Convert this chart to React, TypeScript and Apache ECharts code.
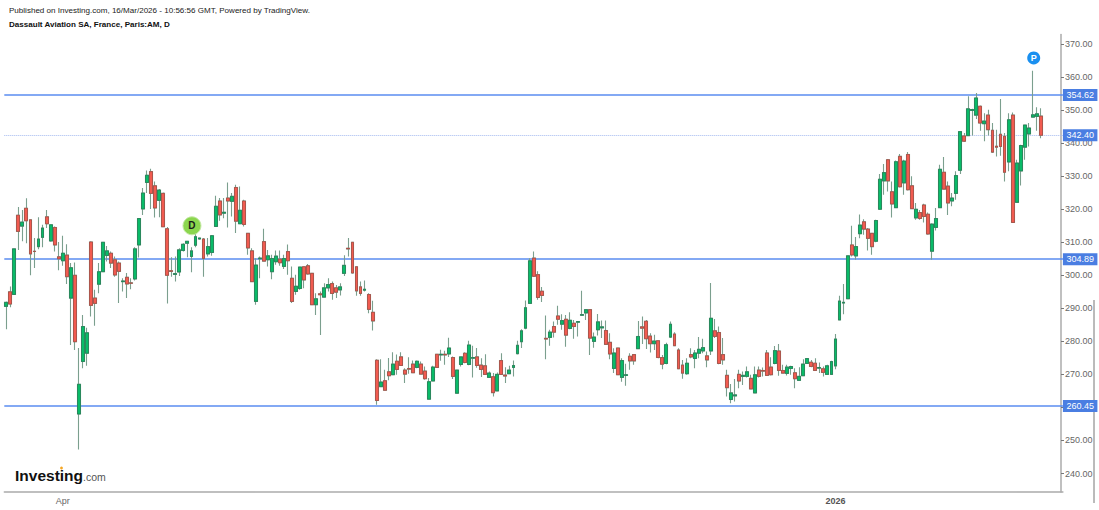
import React, { useEffect, useRef } from "react";
import * as echarts from "echarts";

// [open, close, low, high]
const springCandles = [
[290.6,291.8,283.7,292.1],[295.0,291.3,290.3,296.6],[294.2,308.0,294.2,308.0],[318.2,313.3,307.7,320.7],[314.9,316.1,310.3,319.8],[320.3,316.5,309.7,323.3],
[316.8,306.5,300.0,317.0],[307.3,307.2,302.2,311.3],[308.7,311.0,307.9,317.6],[311.5,314.3,308.5,315.3],[317.7,315.6,314.3,319.8],[310.4,315.3,310.2,315.3],
[314.5,309.2,307.2,314.8],[305.6,305.0,301.5,310.1],[304.4,306.7,302.9,312.0],[306.1,299.6,297.4,309.4],[293.1,302.3,278.9,303.7],[300.0,279.9,277.4,303.9],
[258.0,267.0,247.3,278.0],[273.9,284.5,271.9,288.0],[276.4,282.6,272.6,284.1],[310.1,290.9,287.5,310.3],[293.1,291.5,284.7,295.6],[297.3,301.1,294.6,303.7],
[301.1,310.0,301.1,310.1],[306.0,307.4,304.2,308.9],[306.7,303.7,302.2,307.2],[304.7,300.1,299.6,305.7],[303.7,301.2,291.6,304.2],[298.1,298.3,295.1,299.1],
[299.4,297.4,293.1,300.7],[297.7,297.6,295.8,299.1],[298.9,308.0,298.4,308.5],[309.2,317.2,305.4,317.3],[320.1,324.9,318.3,326.4],[328.1,330.3,324.9,331.7],
[331.4,324.8,320.1,332.3],[327.1,320.4,317.5,328.4],[322.7,325.8,317.6,326.1],[324.8,314.7,314.6,325.1],[314.1,300.0,291.5,314.6],[301.4,301.2,299.6,305.5],
[300.3,300.5,298.1,305.7],[301.0,307.7,299.8,308.2],[307.5,309.4,307.2,309.7],[309.7,310.3,305.5,310.5],[305.7,307.4,300.9,308.5],[309.1,311.7,308.5,313.8],
[311.0,311.3,310.8,311.4],[311.0,305.1,299.6,311.3],[306.5,308.7,305.7,311.3],[306.9,312.0,305.9,312.2],[314.8,320.9,314.8,324.1],[322.5,318.3,316.5,323.4],
[318.8,319.1,317.3,323.4],[323.4,322.5,314.5,328.1],[322.4,323.9,317.8,324.9],[326.6,316.4,312.8,327.4],[315.6,319.7,315.5,326.9],[322.5,315.4,314.8,322.9],
[312.7,308.3,306.2,312.8],[307.4,298.1,298.0,308.2],[292.1,303.1,291.1,305.2],[305.0,305.2,299.1,305.7],[310.2,304.3,304.1,314.1],[304.7,305.9,302.7,307.7],
[301.1,305.1,298.8,306.2],[304.1,305.8,303.2,307.5],[304.9,303.8,302.9,307.5],[302.7,305.1,301.9,306.2],[307.2,304.4,300.2,309.3],[299.1,292.1,291.6,302.7],
[295.1,296.7,294.1,300.2],[296.0,302.5,295.6,302.7],[302.6,298.6,296.1,302.7],[302.9,300.4,300.2,303.4],[300.6,291.1,291.0,300.7],[291.1,292.9,288.0,294.6],
[294.4,294.1,281.9,295.1],[293.4,296.2,293.3,297.6],[296.2,297.2,295.1,299.1],[297.5,294.5,292.6,298.1],[296.2,294.9,293.1,297.1],[295.6,296.5,293.9,297.6],
[300.6,303.0,299.8,306.1],[308.2,308.0,305.7,311.3],[310.0,300.7,300.5,310.1],[302.6,295.3,293.8,302.7],[296.5,294.5,293.8,298.1],[295.5,295.8,295.1,298.4],
[294.2,289.7,288.5,294.6],[288.8,286.2,283.3,292.3],
];

const summerCandles = [
[274.3,262.1,260.8,274.6],[266.3,267.7,266.2,274.6],[268.1,265.2,265.1,271.4],[270.8,269.6,268.2,275.0],[269.9,273.1,269.8,276.7],[274.0,271.5,269.9,276.0],
[275.3,272.7,272.6,276.7],[271.3,270.1,267.4,271.9],[271.8,271.6,270.2,275.2],[273.1,270.5,270.4,274.2],[272.1,274.0,271.9,274.2],[273.1,270.1,269.9,273.9],
[271.0,268.7,268.4,272.4],[262.5,267.8,262.3,268.9],[268.0,272.2,267.9,272.6],[276.1,272.1,272.0,276.2],[275.9,276.1,274.1,277.5],[276.1,275.9,272.9,277.2],
[276.2,278.0,275.3,281.1],[275.1,269.4,268.6,275.4],[264.3,271.3,264.3,271.4],[273.0,275.3,272.4,275.4],[276.4,273.6,273.4,276.7],[273.0,278.9,272.8,280.2],
[274.9,275.1,269.1,278.7],[275.3,272.7,272.0,278.0],[272.8,271.5,269.2,274.9],[272.6,270.0,269.9,276.1],[269.1,270.4,269.0,270.9],[269.3,264.5,263.3,270.4],
[265.0,270.0,264.8,270.6],[274.2,270.0,269.9,276.4],[269.8,269.5,267.4,272.2],[270.2,271.3,270.1,272.6],[272.1,272.7,269.4,274.2],[276.3,278.8,276.0,280.2],
[279.9,283.2,278.0,283.7],[284.0,290.2,283.7,292.4],[291.5,304.4,291.4,305.2],[305.2,299.7,299.5,307.2],[300.2,293.3,292.6,301.2],[295.2,293.9,291.9,296.5],
[280.9,280.7,274.6,287.8],[281.2,282.8,278.7,283.5],[284.5,282.8,281.2,286.0],[287.7,286.7,285.0,290.8],
];

const autumnCandles = [
[285.2,286.3,283.5,288.2],[286.7,281.9,278.4,288.0],[283.9,286.4,283.7,288.8],[285.5,284.5,280.8,286.5],[285.8,286.0,281.5,286.2],[287.9,288.1,287.8,295.3],
[288.6,289.6,286.5,289.7],[289.6,281.0,275.9,289.7],[280.0,281.3,278.1,282.7],[283.5,285.9,281.8,288.3],[284.1,284.4,281.0,286.3],[283.3,279.1,278.9,286.3],
[279.7,276.2,274.6,282.5],[271.8,276.5,270.4,277.9],[278.0,269.9,269.8,278.1],[269.1,274.2,267.8,274.9],[269.7,269.9,266.6,273.2],[275.5,274.1,271.4,276.4],
[276.0,274.1,272.9,276.2],[277.8,281.5,277.6,286.2],[284.4,284.0,279.2,287.5],[286.1,280.8,277.7,286.5],[281.6,279.3,276.6,282.5],[279.3,280.1,277.4,282.0],
[280.2,275.1,274.9,280.3],[275.1,273.1,271.6,275.9],[273.3,279.0,273.1,279.6],[281.3,285.2,281.0,286.0],[282.2,278.7,278.5,282.8],[277.4,271.7,271.6,277.9],
[272.8,270.4,268.7,274.4],[270.2,273.4,269.9,274.9],[276.0,275.3,274.9,277.9],[274.8,276.5,271.9,277.4],[276.4,277.6,274.9,281.3],[277.1,278.1,276.4,280.8],
[275.6,274.4,272.2,276.9],[277.1,287.0,275.9,297.7],[283.2,281.5,281.0,286.8],[282.7,273.3,273.1,284.5],[276.0,274.4,272.9,281.0],[269.7,266.0,263.3,271.4],
[262.4,264.4,261.3,267.1],[263.5,263.8,261.8,268.6],[270.0,268.0,265.8,271.4],[269.4,269.7,266.8,270.9],[269.4,270.8,269.1,272.4],[268.8,265.6,265.5,269.9],
[264.4,269.9,264.2,272.4],[271.3,269.4,269.1,272.4],[271.2,271.0,269.4,272.1],[276.5,269.7,269.6,277.4],[272.2,269.9,269.7,275.2],[273.3,277.2,273.1,278.6],
[277.1,271.2,269.6,279.2],[271.2,270.4,270.3,272.9],[270.3,272.2,269.7,272.9],[271.8,272.4,269.9,272.6],[270.5,268.7,265.8,271.9],[268.2,269.4,268.1,272.2],
[269.6,273.1,269.5,274.6],[273.3,274.8,273.2,274.9],[273.7,272.4,272.2,274.4],[273.4,271.2,271.0,274.9],[271.9,272.1,270.4,273.6],[271.7,270.6,269.4,272.4],
[270.0,272.6,269.9,272.9],[270.0,273.9,269.9,274.1],[272.6,280.7,271.6,282.2],[286.5,292.2,286.3,293.8],[291.6,291.8,288.2,297.4],
];

const winterCandles = [
[292.9,305.9,292.8,306.0],[309.2,306.2,305.7,315.0],[305.9,308.7,304.7,311.6],[312.6,315.2,311.2,318.4],[316.2,314.0,312.3,317.0],[314.0,311.2,307.5,314.3],
[312.7,308.7,306.2,312.8],[310.3,316.6,310.0,316.8],[320.0,329.1,319.8,330.7],[328.6,331.1,324.4,333.7],[335.0,328.6,325.4,335.2],[325.3,321.6,317.5,328.4],
[320.5,334.4,320.4,334.8],[336.0,326.8,326.6,336.7],[328.0,334.6,324.4,335.0],[336.6,325.9,325.7,337.3],[327.1,320.2,320.1,330.0],[317.4,320.0,316.8,321.9],
[319.0,317.2,316.8,319.8],[321.3,317.8,316.0,321.7],[318.5,312.5,312.3,319.0],[307.3,315.5,304.7,315.8],[314.5,317.2,313.6,320.4],[320.5,332.1,320.4,333.5],
[331.2,326.1,325.9,335.8],[327.0,321.9,318.3,328.4],[322.5,323.4,320.9,324.9],[324.8,330.2,322.9,331.5],[331.8,343.5,330.7,343.6],[342.2,340.6,340.4,343.1],
[342.3,350.4,342.1,354.2],[349.9,350.2,342.3,350.4],[348.5,353.7,347.3,355.2],[351.2,346.1,343.8,351.4],[345.9,346.7,340.6,349.1],[348.5,344.1,342.3,350.1],
[343.9,337.3,337.0,346.1],[339.1,338.8,336.0,344.1],[342.7,339.0,336.2,353.4],[342.1,331.2,328.4,343.1],[334.3,347.1,331.5,349.1],[348.5,316.0,315.9,349.3],
[322.1,334.0,322.0,335.0],[331.6,339.3,327.2,339.5],[338.8,345.5,335.0,345.6],[342.8,344.6,339.0,346.1],[347.9,348.6,347.9,361.9],[348.1,348.9,343.8,350.9],
[348.2,342.4,341.5,350.6],
];

const candles = [...springCandles, ...summerCandles, ...autumnCandles, ...winterCandles];

const emptyBarsAtRight = 5;
const tickIndexes = [14, 34, 55, 76, 99, 120, 142, 165, 185, 206, 227, 247];
const tickLabels: Record<number, string> = { 14: "Apr", 206: "2026" };
const priceTicks = [240, 250, 260, 270, 280, 290, 300, 310, 320, 330, 340, 350, 360, 370];
const solidLevels = [354.62, 304.89, 260.45];
const dottedLevel = 342.4;
const eventD = { index: 46, price: 315, label: "D" };
const eventP = { index: 255, price: 365.8, label: "P" };

const FONT = '"Liberation Sans", Arial, sans-serif';
const GREEN = "#09bb68";
const RED = "#f15b50";
const GREEN_EDGE = "#1f7a50";
const RED_EDGE = "#a8453e";
const WICK = "#7b9f8e";
const LEVEL = "#5a8cf0";
const TAG = "#4a7ee2";

export default function App() {
  const ref = useRef<HTMLDivElement>(null);
  useEffect(() => {
    document.body.style.margin = "0";
    document.body.style.overflow = "hidden";
    const chart = echarts.init(ref.current!, null, { renderer: "svg" });
    const categories = Array.from(
      { length: candles.length + emptyBarsAtRight },
      (_, i) => tickLabels[i] ?? String(i)
    );
    const bodies = candles.map(([o, c]) => [o, c, Math.min(o, c), Math.max(o, c)]);
    const levelLabel = {
      show: true,
      position: "end",
      distance: 0,
      color: "#fff",
      fontFamily: FONT,
      fontSize: 9,
      backgroundColor: TAG,
      padding: [1.5, 3.5, 1.5, 3.5],
    };
    chart.setOption({
      animation: false,
      backgroundColor: "#fff",
      title: [
        {
          text: "Published on Investing.com, 16/Mar/2026 - 10:56:56 GMT, Powered by TradingView.",
          left: 9,
          top: 6,
          padding: 0,
          textStyle: { fontFamily: FONT, fontSize: 8.05, fontWeight: "normal", color: "#222" },
        },
        {
          text: "Dassault Aviation SA, France, Paris:AM, D",
          left: 9,
          top: 20,
          padding: 0,
          textStyle: { fontFamily: FONT, fontSize: 8.05, fontWeight: "bold", color: "#111" },
        },
      ],
      grid: { left: 4.3, top: 34.6, width: 1058.6, height: 457.4, containLabel: false },
      xAxis: {
        type: "category",
        data: categories,
        boundaryGap: true,
        axisLine: { lineStyle: { color: "#ababab", width: 1.5 } },
        axisTick: {
          alignWithLabel: true,
          length: 3,
          lineStyle: { color: "#777" },
          interval: (i: number) => tickIndexes.includes(i),
        },
        axisLabel: {
          interval: (i: number) => tickIndexes.includes(i),
          margin: 4,
          fontFamily: FONT,
          fontSize: 9,
          color: "#666",
          formatter: (v: string) => (v === "2026" ? "{b|2026}" : v === "Apr" ? "Apr" : ""),
          rich: { b: { fontFamily: FONT, fontSize: 9, fontWeight: "bold", color: "#555" } },
        },
        splitLine: { show: false },
      },
      yAxis: {
        type: "value",
        position: "right",
        offset: -1.9,
        min: 234.4,
        max: 372.88,
        axisLine: { show: true, lineStyle: { color: "#ababab", width: 1.5 } },
        axisTick: { show: true, length: 3, customValues: priceTicks, lineStyle: { color: "#777" } },
        axisLabel: {
          customValues: priceTicks,
          margin: 4,
          fontFamily: FONT,
          fontSize: 9,
          color: "#666",
          formatter: (v: number) => v.toFixed(2),
        },
        splitLine: { show: false },
      },
      series: [
        {
          type: "candlestick",
          name: "Dassault Aviation",
          data: candles,
          barWidth: 3.4,
          itemStyle: {
            color: GREEN,
            color0: RED,
            borderColor: WICK,
            borderColor0: WICK,
            borderWidth: 1.1,
          },
          markLine: {
            silent: true,
            symbol: "none",
            animation: false,
            z: 1,
            data: [
              ...solidLevels.map((v) => ({
                yAxis: v,
                lineStyle: { color: LEVEL, width: 1.5, type: "solid", opacity: 1 },
                label: { ...levelLabel, formatter: v.toFixed(2) },
              })),
              {
                yAxis: dottedLevel,
                lineStyle: { color: "#a3b9f0", width: 1, type: [1, 1], opacity: 1 },
                label: { ...levelLabel, formatter: dottedLevel.toFixed(2) },
              },
            ],
          },
          markPoint: {
            silent: true,
            animation: false,
            data: [
              {
                coord: [eventD.index, eventD.price],
                symbol: "circle",
                symbolSize: 18,
                symbolOffset: [0.5, 0],
                itemStyle: { color: "#8bd64e", borderColor: "#c4e9a4", borderWidth: 1 },
                label: {
                  show: true,
                  position: "inside",
                  formatter: eventD.label,
                  color: "#1a1a1a",
                  fontFamily: FONT,
                  fontSize: 10,
                  fontWeight: "bold",
                },
              },
              {
                coord: [eventP.index, eventP.price],
                symbol: "circle",
                symbolSize: 13,
                symbolOffset: [1, 0],
                itemStyle: { color: "#1a90f0" },
                label: {
                  show: true,
                  position: "inside",
                  formatter: eventP.label,
                  color: "#fff",
                  fontFamily: FONT,
                  fontSize: 9,
                  fontWeight: "bold",
                },
              },
            ],
          },
        },
        {
          type: "candlestick",
          name: "Bodies",
          data: bodies,
          barWidth: 3.4,
          itemStyle: {
            color: GREEN,
            color0: RED,
            borderColor: GREEN_EDGE,
            borderColor0: RED_EDGE,
            borderWidth: 0.7,
          },
        },
      ],
      graphic: [
        {
          type: "text",
          left: 15,
          top: 467,
          style: { text: "Investing", fill: "#111", font: `bold 15.5px ${FONT}` },
        },
        {
          type: "text",
          left: 83,
          top: 471,
          style: { text: ".com", fill: "#555", font: `10.5px ${FONT}` },
        },
        {
          type: "circle",
          shape: { cx: 61.5, cy: 468, r: 1.4 },
          style: { fill: "#f5a623" },
        },
        {
          type: "line",
          shape: { x1: 1094, y1: 300, x2: 1094, y2: 503 },
          style: { stroke: "#777", lineWidth: 1 },
        },
      ],
    });
    return () => chart.dispose();
  }, []);
  return <div ref={ref} style={{ width: 1099, height: 510 }} />;
}
